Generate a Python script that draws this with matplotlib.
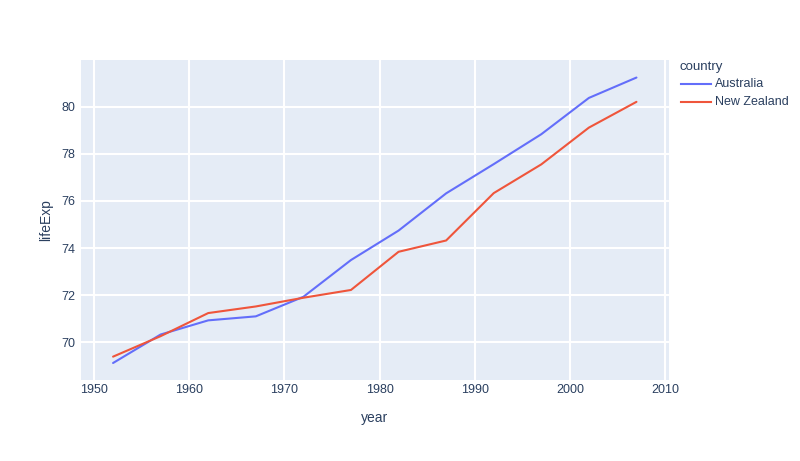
import matplotlib.pyplot as plt
from matplotlib.lines import Line2D

years = [1952, 1957, 1962, 1967, 1972, 1977, 1982, 1987, 1992, 1997, 2002, 2007]
australia = [69.12, 70.33, 70.93, 71.10, 71.93, 73.49, 74.74, 76.32, 77.56, 78.83, 80.37, 81.235]
new_zealand = [69.39, 70.26, 71.24, 71.52, 71.89, 72.22, 73.84, 74.32, 76.33, 77.55, 79.11, 80.204]
x_ticks = [1950, 1960, 1970, 1980, 1990, 2000, 2010]
y_ticks = [70, 72, 74, 76, 78, 80]

TEXT = "#2a3f5f"
plt.rcParams["font.family"] = ["Liberation Sans", "DejaVu Sans"]

W, H = 800, 461
fig = plt.figure(figsize=(W / 100, H / 100), dpi=100)
ax = fig.add_axes([81 / W, (H - 379.5) / H, (669 - 81) / W, (379.5 - 60) / H])
ax.set_facecolor("#E5ECF6")

series = [("Australia", australia, "#636EFA"), ("New Zealand", new_zealand, "#EF553B")]
for name, vals, color in series:
    ax.plot(years, vals, color=color, linewidth=1.5, solid_capstyle="round", zorder=3)

ax.set_xlim(1948.63, 2010.42)
ax.set_ylim(68.42, 81.98)
ax.set_xticks(x_ticks)
ax.set_yticks(y_ticks)
ax.grid(color="white", linewidth=1.5)
ax.set_axisbelow(True)
for s in ax.spines.values():
    s.set_visible(False)
ax.tick_params(length=0, labelsize=9, labelcolor=TEXT)
ax.tick_params(axis="x", pad=3)
ax.tick_params(axis="y", pad=4)
ax.set_xlabel("year", fontsize=10, color=TEXT, labelpad=11)
ax.set_ylabel("lifeExp", fontsize=10, color=TEXT, labelpad=6)

# legend, placed by hand like the plotly one
fig.text(680 / W, 1 - 67 / H, "country", fontsize=9.5, color=TEXT, va="center")
for i, (name, _, color) in enumerate(series):
    y = 1 - (84 + 18 * i) / H
    fig.add_artist(Line2D([681 / W, 711 / W], [y, y], color=color, linewidth=1.5,
                          transform=fig.transFigure))
    fig.text(715 / W, y, name, fontsize=9, color=TEXT, va="center")

fig.savefig("out.png", dpi=100)
